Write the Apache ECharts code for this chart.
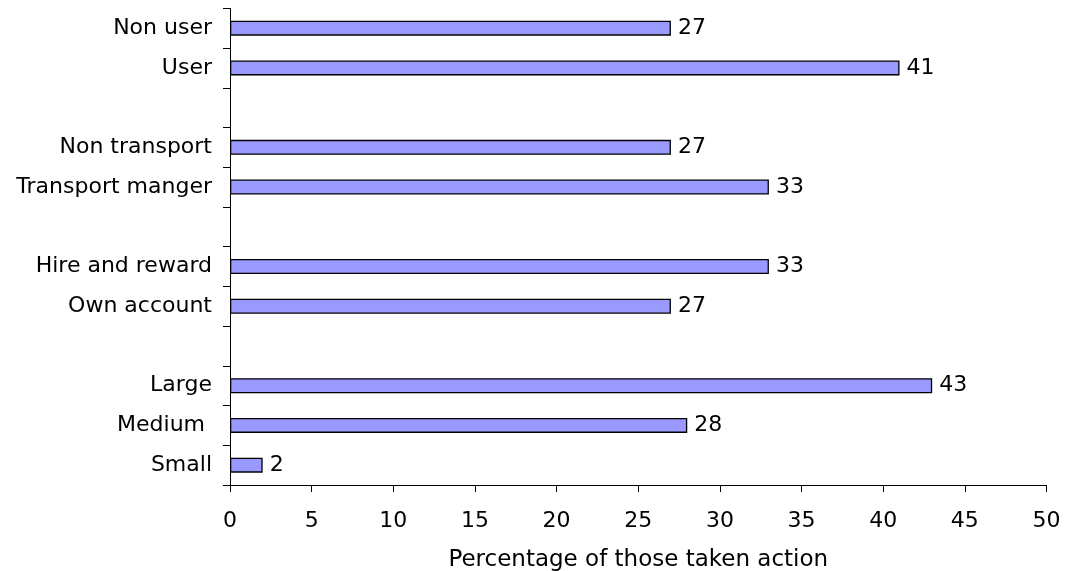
<!DOCTYPE html>
<html>
<head>
<meta charset="utf-8">
<script src="https://cdn.jsdelivr.net/npm/echarts@6/dist/echarts.min.js"></script>
<style>html,body{margin:0;padding:0;background:#fff}#chart{width:1065px;height:571px}</style>
</head>
<body>
<div id="chart"></div>
<script>
// categories from bottom to top (blank rows separate groups)
const categories = ['Small', 'Medium ', 'Large', ' ', 'Own account', 'Hire and reward', '  ', 'Transport manger', 'Non transport', '   ', 'User', 'Non user'];
const values = [2, 28, 43, null, 27, 33, null, 33, 27, null, 41, 27];
const xTicks = { min: 0, max: 50, interval: 5 };
const xTitle = 'Percentage of those taken action';

const font = 'DejaVu Sans, Verdana, sans-serif';
const chart = echarts.init(document.getElementById('chart'), null, { renderer: 'canvas' });
chart.setOption({
  animation: false,
  backgroundColor: '#fff',
  grid: { left: 230, right: 18.5, top: 8.3, bottom: 86, containLabel: false, outerBoundsMode: 'none' },
  xAxis: {
    type: 'value',
    min: xTicks.min, max: xTicks.max, interval: xTicks.interval,
    name: xTitle,
    nameLocation: 'middle',
    nameGap: 64,
    nameTextStyle: { fontFamily: font, fontSize: 23, color: '#000' },
    axisLine: { show: true, lineStyle: { color: '#000', width: 1 } },
    axisTick: { show: true, inside: false, length: 7, lineStyle: { color: '#000' } },
    axisLabel: { fontFamily: font, fontSize: 22, color: '#000', margin: 25 },
    splitLine: { show: false }
  },
  yAxis: {
    type: 'category',
    data: categories,
    boundaryGap: true,
    axisLine: { show: true, lineStyle: { color: '#000', width: 1 } },
    axisTick: { show: true, inside: false, length: 7, alignWithLabel: false, lineStyle: { color: '#000' } },
    axisLabel: { fontFamily: font, fontSize: 22, color: '#000', margin: 18, interval: 0 },
    splitLine: { show: false }
  },
  series: [{
    type: 'bar',
    data: values,
    barWidth: 15,
    itemStyle: { color: '#9999FF', borderColor: '#000', borderWidth: 1.3 },
    label: { show: true, position: 'right', distance: 7, fontFamily: font, fontSize: 22, color: '#000' }
  }]
});
</script>
</body>
</html>
